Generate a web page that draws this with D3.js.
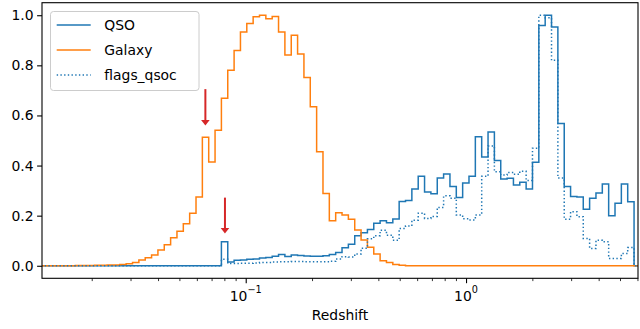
<!DOCTYPE html>
<html>
<head>
<meta charset="utf-8">
<script src="https://cdn.jsdelivr.net/npm/d3@7"></script>
<style>
  body { margin: 0; background: #fff; }
  svg { display: block; font-family: "DejaVu Sans", sans-serif; }
</style>
</head>
<body>
<svg></svg>
<script>
// histogram bins: log spaced edges
var binStart = 0.011324;
var binRatio = 1.068602;
var numBins = 95;

// normalised counts per bin
var qsoValues = [
  0, 0, 0, 0, 0, 0, 0, 0, 0, 0,
  0, 0, 0, 0, 0, 0, 0, 0, 0, 0,
  0, 0, 0, 0, 0, 0, 0, 0, 0,
  0.096, 0.015, 0.022, 0.023, 0.026, 0.027, 0.031, 0.033, 0.038, 0.045,
  0.037, 0.043, 0.041, 0.039, 0.038, 0.038, 0.040, 0.045, 0.053, 0.072,
  0.086, 0.120, 0.132, 0.145, 0.170, 0.180, 0.172, 0.187, 0.257, 0.261,
  0.306, 0.357, 0.294, 0.287, 0.350, 0.366, 0.316, 0.272, 0.330, 0.357,
  0.515, 0.434, 0.534, 0.420, 0.346, 0.349, 0.322, 0.333, 0.306, 0.413,
  0.959, 1.000, 0.953, 0.568, 0.316, 0.276, 0.274, 0.226, 0.270, 0.290,
  0.326, 0.200, 0.250, 0.326, 0.256, 0
];

var galaxyValues = [
  0, 0, 0, 0, 0, 0, 0.001, 0.001, 0.001, 0.002,
  0.002, 0.003, 0.003, 0.005, 0.008, 0.013, 0.023, 0.032, 0.043, 0.063,
  0.084, 0.112, 0.138, 0.168, 0.210,
  0.274, 0.513, 0.414, 0.541, 0.669, 0.780, 0.859, 0.933, 0.967, 0.994,
  1.000, 0.986, 0.995, 0.933, 0.841, 0.920, 0.845, 0.751, 0.635, 0.455,
  0.288, 0.180, 0.212, 0.203, 0.186, 0.143, 0.103, 0.074, 0.047, 0.020,
  0.013, 0.005, 0.002, 0, 0, 0, 0, 0, 0, 0,
  0, 0, 0, 0, 0, 0, 0, 0, 0, 0,
  0, 0, 0, 0, 0, 0, 0, 0, 0, 0,
  0, 0, 0, 0, 0, 0, 0, 0, 0, 0
];

var flagsValues = [
  0, 0, 0, 0, 0, 0, 0, 0, 0, 0,
  0, 0, 0, 0, 0, 0, 0, 0, 0, 0,
  0, 0, 0, 0, 0, 0, 0, 0, 0,
  0.026, 0.009, 0.009, 0.010, 0.010, 0.011, 0.013, 0.013, 0.015, 0.016,
  0.016, 0.017, 0.017, 0.016, 0.016, 0.016, 0.016, 0.018, 0.027, 0.036,
  0.035, 0.047, 0.070, 0.108, 0.120, 0.142, 0.122, 0.102, 0.149, 0.159,
  0.182, 0.210, 0.189, 0.197, 0.233, 0.279, 0.270, 0.203, 0.188, 0.183,
  0.203, 0.357, 0.478, 0.375, 0.362, 0.372, 0.365, 0.377, 0.340, 0.469,
  1.000, 0.990, 0.820, 0.350, 0.186, 0.216, 0.196, 0.109, 0.069, 0.102,
  0.096, 0.029, 0.029, 0.049, 0.073, 0
];

var seriesNames = ["QSO", "Galaxy", "flags_qsoc"];
var yTicks = [0, 0.2, 0.4, 0.6, 0.8, 1.0];
var xMajor = [0.1, 1];
var xMajorExp = ["\u22121", "0"];
var xMinor = [0.02, 0.03, 0.04, 0.05, 0.06, 0.07, 0.08, 0.09,
              0.2, 0.3, 0.4, 0.5, 0.6, 0.7, 0.8, 0.9,
              2, 3, 4, 5, 6];

// red arrows marking the spikes
var arrowX = [0.0656, 0.0805];
var arrowFrom = [0.705, 0.272];
var arrowTo = [0.56, 0.129];

var width = 640;
var height = 329;
var plotLeft = 42, plotRight = 638, plotTop = 2.7, plotBottom = 278.3;
var fontSize = 13.9;

var svg = d3.select('svg')
  .attr('width', width)
  .attr('height', height);

var xScale = d3.scaleLog()
  .domain([0.011894, 6.034])
  .range([plotLeft, plotRight]);

var yScale = d3.scaleLinear()
  .domain([-0.05, 1.05])
  .range([plotBottom, plotTop]);

var edges = d3.range(numBins + 1).map(i => binStart * Math.pow(binRatio, i));

var stepPoints = function(values){
  var pts = [[edges[0], 0]];
  values.forEach(function(v, i){
    pts.push([edges[i], v]);
    pts.push([edges[i + 1], v]);
  });
  pts.push([edges[numBins], 0]);
  return pts;
};

var line = d3.line()
  .x(d => xScale(d[0]))
  .y(d => yScale(d[1]));

svg.append('clipPath')
  .attr('id', 'plotclip')
  .append('rect')
  .attr('x', plotLeft)
  .attr('y', plotTop)
  .attr('width', plotRight - plotLeft)
  .attr('height', plotBottom - plotTop);

var series = [
  { name: seriesNames[0], values: qsoValues, color: '#1f77b4', dash: null },
  { name: seriesNames[1], values: galaxyValues, color: '#ff7f0e', dash: null },
  { name: seriesNames[2], values: flagsValues, color: '#1f77b4', dash: '1.4,2.3' }
];

var plot = svg.append('g').attr('clip-path', 'url(#plotclip)');

plot.selectAll('path')
  .data(series)
  .enter()
  .append('path')
  .attr('d', d => line(stepPoints(d.values)))
  .attr('fill', 'none')
  .attr('stroke', d => d.color)
  .attr('stroke-width', 1.5)
  .attr('stroke-dasharray', d => d.dash)
  .attr('stroke-linejoin', 'miter');

// arrows
arrowX.forEach(function(ax, i){
  var px = xScale(ax);
  var y1 = yScale(arrowFrom[i]);
  var y2 = yScale(arrowTo[i]);
  var headLen = 5.5, headW = 4.3;
  svg.append('line')
    .attr('x1', px).attr('x2', px)
    .attr('y1', y1).attr('y2', y2 - headLen + 0.5)
    .attr('stroke', '#d62728')
    .attr('stroke-width', 2);
  svg.append('path')
    .attr('d', 'M' + (px - headW) + ',' + (y2 - headLen) + 'L' + (px + headW) + ',' + (y2 - headLen) + 'L' + px + ',' + y2 + 'Z')
    .attr('fill', '#d62728');
});

// y axis
var yAxis = d3.axisLeft(yScale)
  .tickValues(yTicks)
  .tickSize(4.9)
  .tickPadding(3.5)
  .tickFormat(d3.format('.1f'));

var gy = svg.append('g')
  .attr('transform', 'translate(' + plotLeft + ',0)')
  .call(yAxis);
gy.select('.domain').remove();
gy.selectAll('line').attr('stroke', '#000').attr('stroke-width', 1.1);
gy.selectAll('text')
  .attr('fill', '#000')
  .style('font-size', fontSize + 'px')
  .style('font-family', '"DejaVu Sans", sans-serif');

// x axis: minor ticks
var gxMinor = svg.append('g')
  .attr('transform', 'translate(0,' + plotBottom + ')')
  .call(d3.axisBottom(xScale).tickValues(xMinor).tickSize(2.8).tickFormat(''));
gxMinor.select('.domain').remove();
gxMinor.selectAll('line').attr('stroke', '#000').attr('stroke-width', 0.8);

// x axis: major ticks
var gxMajor = svg.append('g')
  .attr('transform', 'translate(0,' + plotBottom + ')')
  .call(d3.axisBottom(xScale).tickValues(xMajor).tickSize(4.9).tickFormat(''));
gxMajor.select('.domain').remove();
gxMajor.selectAll('line').attr('stroke', '#000').attr('stroke-width', 1.1);

var xLabels = svg.append('g')
  .selectAll('text')
  .data(xMajor)
  .enter()
  .append('text')
  .attr('x', d => xScale(d))
  .attr('y', 300.5)
  .attr('text-anchor', 'middle')
  .attr('fill', '#000')
  .style('font-size', fontSize + 'px');
xLabels.append('tspan').text('10');
xLabels.append('tspan')
  .attr('dy', -7.2)
  .style('font-size', '9.7px')
  .text((d, i) => xMajorExp[i]);

svg.append('text')
  .attr('x', (plotLeft + plotRight) / 2)
  .attr('y', 320)
  .attr('text-anchor', 'middle')
  .attr('fill', '#000')
  .style('font-size', fontSize + 'px')
  .text('Redshift');

// frame
svg.append('rect')
  .attr('x', plotLeft)
  .attr('y', plotTop)
  .attr('width', plotRight - plotLeft)
  .attr('height', plotBottom - plotTop)
  .attr('fill', 'none')
  .attr('stroke', '#000')
  .attr('stroke-width', 1.1);

// legend
var legend = svg.append('g');
legend.append('rect')
  .attr('x', 50.5)
  .attr('y', 11.5)
  .attr('width', 148.5)
  .attr('height', 79)
  .attr('rx', 3)
  .attr('fill', '#fff')
  .attr('fill-opacity', 0.8)
  .attr('stroke', '#cccccc')
  .attr('stroke-width', 1);

var rows = legend.selectAll('g.row')
  .data(series)
  .enter()
  .append('g')
  .attr('class', 'row')
  .attr('transform', (d, i) => 'translate(0,' + (25 + i * 25) + ')');

rows.append('line')
  .attr('x1', 56.7).attr('x2', 90.7)
  .attr('y1', 0).attr('y2', 0)
  .attr('stroke', d => d.color)
  .attr('stroke-width', 1.5)
  .attr('stroke-dasharray', d => d.dash);

rows.append('text')
  .attr('x', 104.3)
  .attr('y', 5.3)
  .attr('fill', '#000')
  .style('font-size', fontSize + 'px')
  .text(d => d.name);
</script>
</body>
</html>
